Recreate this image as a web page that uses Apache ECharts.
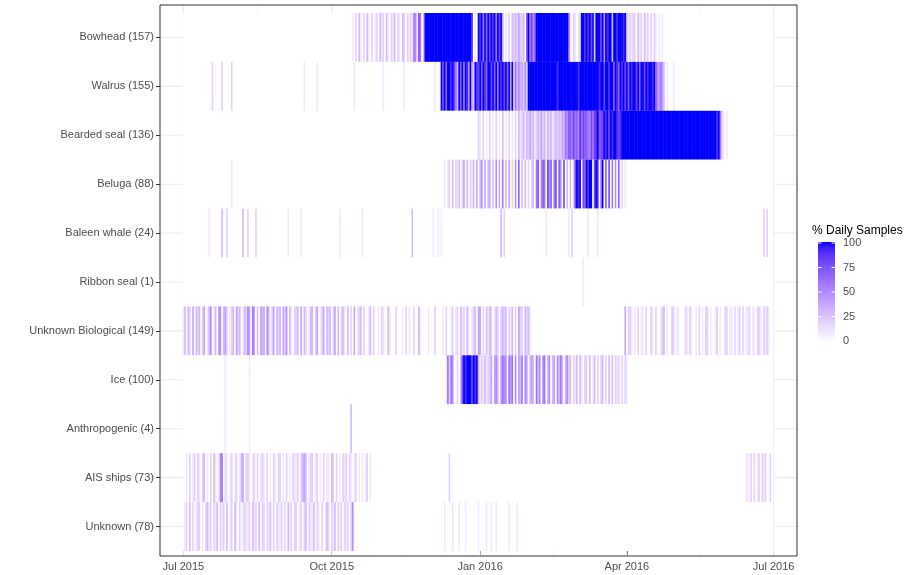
<!DOCTYPE html>
<html>
<head>
<meta charset="utf-8">
<script src="https://cdn.jsdelivr.net/npm/echarts@6/dist/echarts.min.js"></script>
<style>
  html, body { margin: 0; padding: 0; background: #ffffff; }
  #chart { width: 922px; height: 575px; }
</style>
</head>
<body>
<div id="chart"></div>
<script>
// Sound categories, top to bottom (detection-day counts in brackets)
const categories = [
  'Bowhead (157)', 'Walrus (155)', 'Bearded seal (136)', 'Beluga (88)',
  'Baleen whale (24)', 'Ribbon seal (1)', 'Unknown Biological (149)', 'Ice (100)',
  'Anthropogenic (4)', 'AIS ships (73)', 'Unknown (78)'
];

// Daily presence, one character per day from 1 Jul 2015 to 30 Jun 2016
// ('0'..'9' = 0..90 % of daily samples, 'A' = 100 %), written in blocks of ten days.
const bowhead =
  "0000000000 0000000000 0000000000 0000000000 0000000000 0000000000 0000000000 0000000000 0000000000 0000000000 " +
  "0000010203 1020310201 2031203102 1302103202 1216517603 AAAAAAAAAA AAAAAAAAAA AAAAAAAAA9 010A9A6A7A 8A9A6A8A40 " +
  "1020323242 2307A6857A AAAAAAAAAA AAAAAAAAA7 1021012AA9 A9A8A2AAA8 A5A9AA3AA9 AAA9A31212 2031203120 2021010100 " +
  "0000000000 0000000000 0000000000 0000000000 0000000000 0000000000 000000";
const walrus =
  "0000000000 0000000020 0000200000 2000000000 0000000000 0000000000 0000000000 0000010000 0001000000 0000000000 " +
  "0000001000 0000000000 0000100000 0000000100 0000000000 0000001000 A8A7AA9A86 3A7A6A95A4 2A98A7A97A A8A7A6A9A8 " +
  "A7A4A26353 4252AAAAAA AAAAAAAAAA AA9AAAAAAA AAAAA9AAAA AAAAAAAA9A A8AA9AA7A9 7A9A8A7A9A A8A7AA8A9A A9A7546430 " +
  "1000100000 0000000000 0000000000 0000000000 0000000000 0000000000 000000";
const beardedSeal =
  "0000000000 0000000000 0000000000 0000000000 0000000000 0000000000 0000000000 0000000000 0000000000 0000000000 " +
  "0000000000 0000000000 0000000000 0000000000 0000000000 0000000000 0000000000 0000000000 0002102010 2010201030 " +
  "1020102031 2313242312 3242313231 2323243657 7686759687 7658689A78 8A9A8A9AA9 89AAAAAAAA AAAAAAAAAA AAAAAAAAAA " +
  "AAAAAAAAAA AAAAAAAAAA AAAAAAAAAA A9A6210100 0000000000 0000000000 000000";
const beluga =
  "0000000000 0000000000 0000000000 1000000000 0000000000 0000000000 0000000000 0000000000 0000000000 0000000000 " +
  "0000000000 0000000000 0000000000 0000000000 0000000000 0000000000 0010120302 1302403021 3040350403 4030504060 " +
  "3040205070 3030202306 7057608570 6807508030 3028A9A087 A9AA08A906 A070806050 7020100000 0000000000 0000000000 " +
  "0000000000 0000000000 0000000000 0000000000 0000000000 0000000000 000000";
const baleenWhale =
  "0000000000 0000001000 0000300200 0000000300 2000020000 0000000000 0000010000 0001000000 0000000000 0000000100 " +
  "0000000000 0100000000 0000000000 0000000000 0030000000 0000010010 1000000000 0000000000 0000000000 0000000302 " +
  "0000000000 0000000000 0000010000 0000000001 0200000000 0100000100 0000000000 0000000000 0000000000 0000000000 " +
  "0000000000 0000000000 0000000000 0000000000 0000000000 0000000000 202000";
const ribbonSeal =
  "0000000000 0000000000 0000000000 0000000000 0000000000 0000000000 0000000000 0000000000 0000000000 0000000000 " +
  "0000000000 0000000000 0000000000 0000000000 0000000000 0000000000 0000000000 0000000000 0000000000 0000000000 " +
  "0000000000 0000000000 0000000000 0000000000 0000000010 0000000000 0000000000 0000000000 0000000000 0000000000 " +
  "0000000000 0000000000 0000000000 0000000000 0000000000 0000000000 000000";
const unknownBiological =
  "1303204032 3024013501 3045034201 2304230132 5406403043 4053024032 3042503102 2304032013 3024012403 2302403023 " +
  "1030204012 3020013020 0102100310 0020001020 1002003100 0010002000 0102001201 2031203101 2304402031 3201320232 " +
  "3021302042 2032310000 0000000000 0000000000 0000000000 0000000000 0000000000 0000402210 1020110200 2102001230 " +
  "1002201100 0120210010 2010220100 1201002201 1020120201 1201102210 212100";
const ice =
  "0000000000 0000000000 0000001000 0000000000 0100000000 0000000000 0000000000 0000000000 0000000000 0000000000 " +
  "0000000000 0000000000 0000000000 0000000000 0000000000 0000000000 0001626500 2038A9AAA8 A9A3121312 2404530465 " +
  "5064605043 6054034306 3505603503 4053630352 3021303102 2030130202 3020303021 2020210000 0000000000 0000000000 " +
  "0000000000 0000000000 0000000000 0000000000 0000000000 0000000000 000000";
const anthropogenic =
  "0000000000 0000000000 0000001000 0000000000 0100000000 0000000000 0000000000 0000000000 0000000000 0000000000 " +
  "0000300000 0000000000 0000000000 0000000000 0000000000 0000000000 0000000000 0000000000 0000000000 0000000000 " +
  "0000000000 0000000000 0000000000 0000000000 0000000000 0000000000 0000000000 0000000000 0000000000 0000000000 " +
  "0000000000 0000000000 0000000000 0000000000 0000000000 0000000000 000000";
const aisShips =
  "0010201202 1023010203 1015602101 2012013402 2101202012 1020102102 2010201021 1202343012 2012010201 1032020102 " +
  "1202101201 0101201000 0000000000 0000000000 0000000000 0000000000 0000020000 0000000000 0000000000 0000000000 " +
  "0000000000 0000000000 0000000000 0000000000 0000000000 0000000000 0000000000 0000000000 0000000000 0000000000 " +
  "0000000000 0000000000 0000000000 0000000000 0000000001 1020201202 120020";
const unknown =
  "0120302012 2010231202 1302120301 2031020121 1203120302 2021302021 1202031202 2012023021 1302102013 2021302120 " +
  "2120250000 0000000000 0000000000 0000000000 0000000000 0000000000 0010000100 0100010000 0001000010 0100100000 " +
  "0010000100 0000000000 0000000000 0000000000 0000000000 0000000000 0000000000 0000000000 0000000000 0000000000 " +
  "0000000000 0000000000 0000000000 0000000000 0000000000 0000000000 000000";

const rowStrings = [bowhead, walrus, beardedSeal, beluga, baleenWhale, ribbonSeal,
  unknownBiological, ice, anthropogenic, aisShips, unknown];

// Date axis ticks and colour-bar ticks
const xTickDates = ['2015-07-01', '2015-10-01', '2016-01-01', '2016-04-01', '2016-07-01'];
const xTickLabels = ['Jul 2015', 'Oct 2015', 'Jan 2016', 'Apr 2016', 'Jul 2016'];
const xMinorDates = ['2015-08-16', '2015-11-16', '2016-02-15', '2016-05-16'];
const legendTicks = [0, 25, 50, 75, 100];

// ---------- helpers ----------
const DAY = 86400000;
function fmt(t) { return new Date(t).toISOString().slice(0, 10); }
const firstDay = Date.UTC(2015, 6, 1);
const dayCats = [];
for (let i = -14; i <= 380; i++) dayCats.push(fmt(firstDay + i * DAY));

function level(ch) { return ch === 'A' ? 100 : Number(ch) * 10; }

const tiles = [];
rowStrings.forEach((s, r) => {
  const chars = s.replace(/\s+/g, '');
  for (let j = 0; j < chars.length; j++) {
    tiles.push([fmt(firstDay + j * DAY), categories[r], level(chars[j])]);
  }
});

// white -> blue ramp interpolated in CIE Lab
function toLin(c) { c /= 255; return c <= 0.04045 ? c / 12.92 : Math.pow((c + 0.055) / 1.055, 2.4); }
function toSrgb(c) { c = Math.max(0, Math.min(1, c)); return Math.round(255 * (c <= 0.0031308 ? 12.92 * c : 1.055 * Math.pow(c, 1 / 2.4) - 0.055)); }
function rgbToLab(rgb) {
  const R = toLin(rgb[0]), G = toLin(rgb[1]), B = toLin(rgb[2]);
  const X = (0.4124 * R + 0.3576 * G + 0.1805 * B) / 0.95047;
  const Y = 0.2126 * R + 0.7152 * G + 0.0722 * B;
  const Z = (0.0193 * R + 0.1192 * G + 0.9505 * B) / 1.08883;
  const f = t => t > 0.008856 ? Math.cbrt(t) : 7.787 * t + 16 / 116;
  return [116 * f(Y) - 16, 500 * (f(X) - f(Y)), 200 * (f(Y) - f(Z))];
}
function labToRgb(lab) {
  const fy = (lab[0] + 16) / 116, fx = fy + lab[1] / 500, fz = fy - lab[2] / 200;
  const fi = t => { const t3 = t * t * t; return t3 > 0.008856 ? t3 : (t - 16 / 116) / 7.787; };
  const X = fi(fx) * 0.95047, Y = fi(fy), Z = fi(fz) * 1.08883;
  return [toSrgb(3.2406 * X - 1.5372 * Y - 0.4986 * Z),
          toSrgb(-0.9689 * X + 1.8758 * Y + 0.0415 * Z),
          toSrgb(0.0557 * X - 0.2040 * Y + 1.0570 * Z)];
}
const labLow = rgbToLab([255, 255, 255]), labHigh = rgbToLab([0, 0, 255]);
const ramp = [];
for (let k = 0; k <= 20; k++) {
  const t = k / 20;
  const c = labToRgb(labLow.map((v, i) => v + (labHigh[i] - v) * t));
  ramp.push('rgb(' + c.join(',') + ')');
}

// ---------- layout ----------
const panel = { left: 160, right: 797, top: 5, bottom: 556 };
const bandTop = 13, bandBottom = 551;
const font = '"Liberation Sans", Arial, sans-serif';
const isTick = v => xTickDates.indexOf(v) >= 0;

const chart = echarts.init(document.getElementById('chart'), null, { renderer: 'canvas' });

const bar = { x: 818, top: 243, bottom: 341, w: 17 };
const legendGraphics = [
  { type: 'text', left: 812, top: 225, style: { text: '% Daily Samples', font: '12px ' + font, fill: '#000' } },
  { type: 'rect', shape: { x: bar.x, y: bar.top - 1, width: bar.w, height: bar.bottom - bar.top + 2 },
    style: { fill: new echarts.graphic.LinearGradient(0, 1, 0, 0,
      ramp.map((c, k) => ({ offset: k / 20, color: c }))) } }
];
legendTicks.forEach(v => {
  const y = bar.bottom - (bar.bottom - bar.top) * v / 100;
  legendGraphics.push(
    { type: 'line', shape: { x1: bar.x, y1: y, x2: bar.x + 3.4, y2: y }, style: { stroke: '#fff', lineWidth: 1 } },
    { type: 'line', shape: { x1: bar.x + bar.w - 3.4, y1: y, x2: bar.x + bar.w, y2: y }, style: { stroke: '#fff', lineWidth: 1 } },
    { type: 'text', x: bar.x + bar.w + 8, y: y, style: { text: String(v), font: '11px ' + font, fill: '#4d4d4d', verticalAlign: 'middle' } }
  );
});
legendGraphics.push({ type: 'rect', z: 100, shape: { x: panel.left, y: panel.top, width: panel.right - panel.left, height: panel.bottom - panel.top },
  style: { fill: 'none', stroke: '#333333', lineWidth: 1 } });

chart.setOption({
  animation: false,
  backgroundColor: '#ffffff',
  grid: { left: panel.left, right: 922 - panel.right, top: bandTop, bottom: 575 - bandBottom, containLabel: false },
  xAxis: {
    type: 'category', data: dayCats, boundaryGap: true,
    axisLine: { show: false },
    axisTick: { show: true, alignWithLabel: true, interval: (i, v) => isTick(v), length: 4, lineStyle: { color: '#333' } },
    axisLabel: { interval: (i, v) => isTick(v), formatter: v => xTickLabels[xTickDates.indexOf(v)] || '',
      color: '#4d4d4d', fontSize: 11, fontFamily: font, margin: 10 },
    splitLine: { show: false }
  },
  yAxis: {
    type: 'category', data: categories, inverse: true,
    axisLine: { show: false },
    axisTick: { show: true, alignWithLabel: true, length: 4, lineStyle: { color: '#333' } },
    axisLabel: { color: '#4d4d4d', fontSize: 11, fontFamily: font, margin: 6 },
    splitLine: { show: false }
  },
  visualMap: {
    type: 'continuous', show: false, min: 0, max: 100, dimension: 2, seriesIndex: 2,
    inRange: { color: ramp }
  },
  series: [
    { // horizontal panel grid lines at each category
      type: 'custom', z: 1, silent: true, clip: false,
      data: categories.map((c, i) => [0, i]),
      encode: { x: 0, y: 1 },
      renderItem: (params, api) => {
        const y = api.coord([0, api.value(1)])[1];
        return { type: 'line', shape: { x1: panel.left, y1: y, x2: panel.right, y2: y },
          style: { stroke: '#ebebeb', lineWidth: 1.1 } };
      }
    },
    { // vertical panel grid lines at major and minor date breaks
      type: 'custom', z: 1, silent: true, clip: false,
      data: xTickDates.map(d => [d, 1]).concat(xMinorDates.map(d => [d, 0])),
      encode: { x: 0 },
      renderItem: (params, api) => {
        const x = api.coord([api.value(0), 0])[0];
        return { type: 'line', shape: { x1: x, y1: panel.top, x2: x, y2: panel.bottom },
          style: { stroke: '#ebebeb', lineWidth: api.value(1) ? 1.1 : 0.55 } };
      }
    },
    { // daily tiles
      type: 'custom', z: 2, silent: true,
      data: tiles,
      encode: { x: 0, y: 1 },
      renderItem: (params, api) => {
        const c = api.coord([api.value(0), api.value(1)]);
        const s = api.size([1, 1]);
        return { type: 'rect',
          shape: { x: c[0] - s[0] / 2, y: c[1] - s[1] / 2, width: s[0] + 0.5, height: s[1] },
          style: { fill: api.visual('color') } };
      }
    }
  ],
  graphic: legendGraphics
});
</script>
</body>
</html>
